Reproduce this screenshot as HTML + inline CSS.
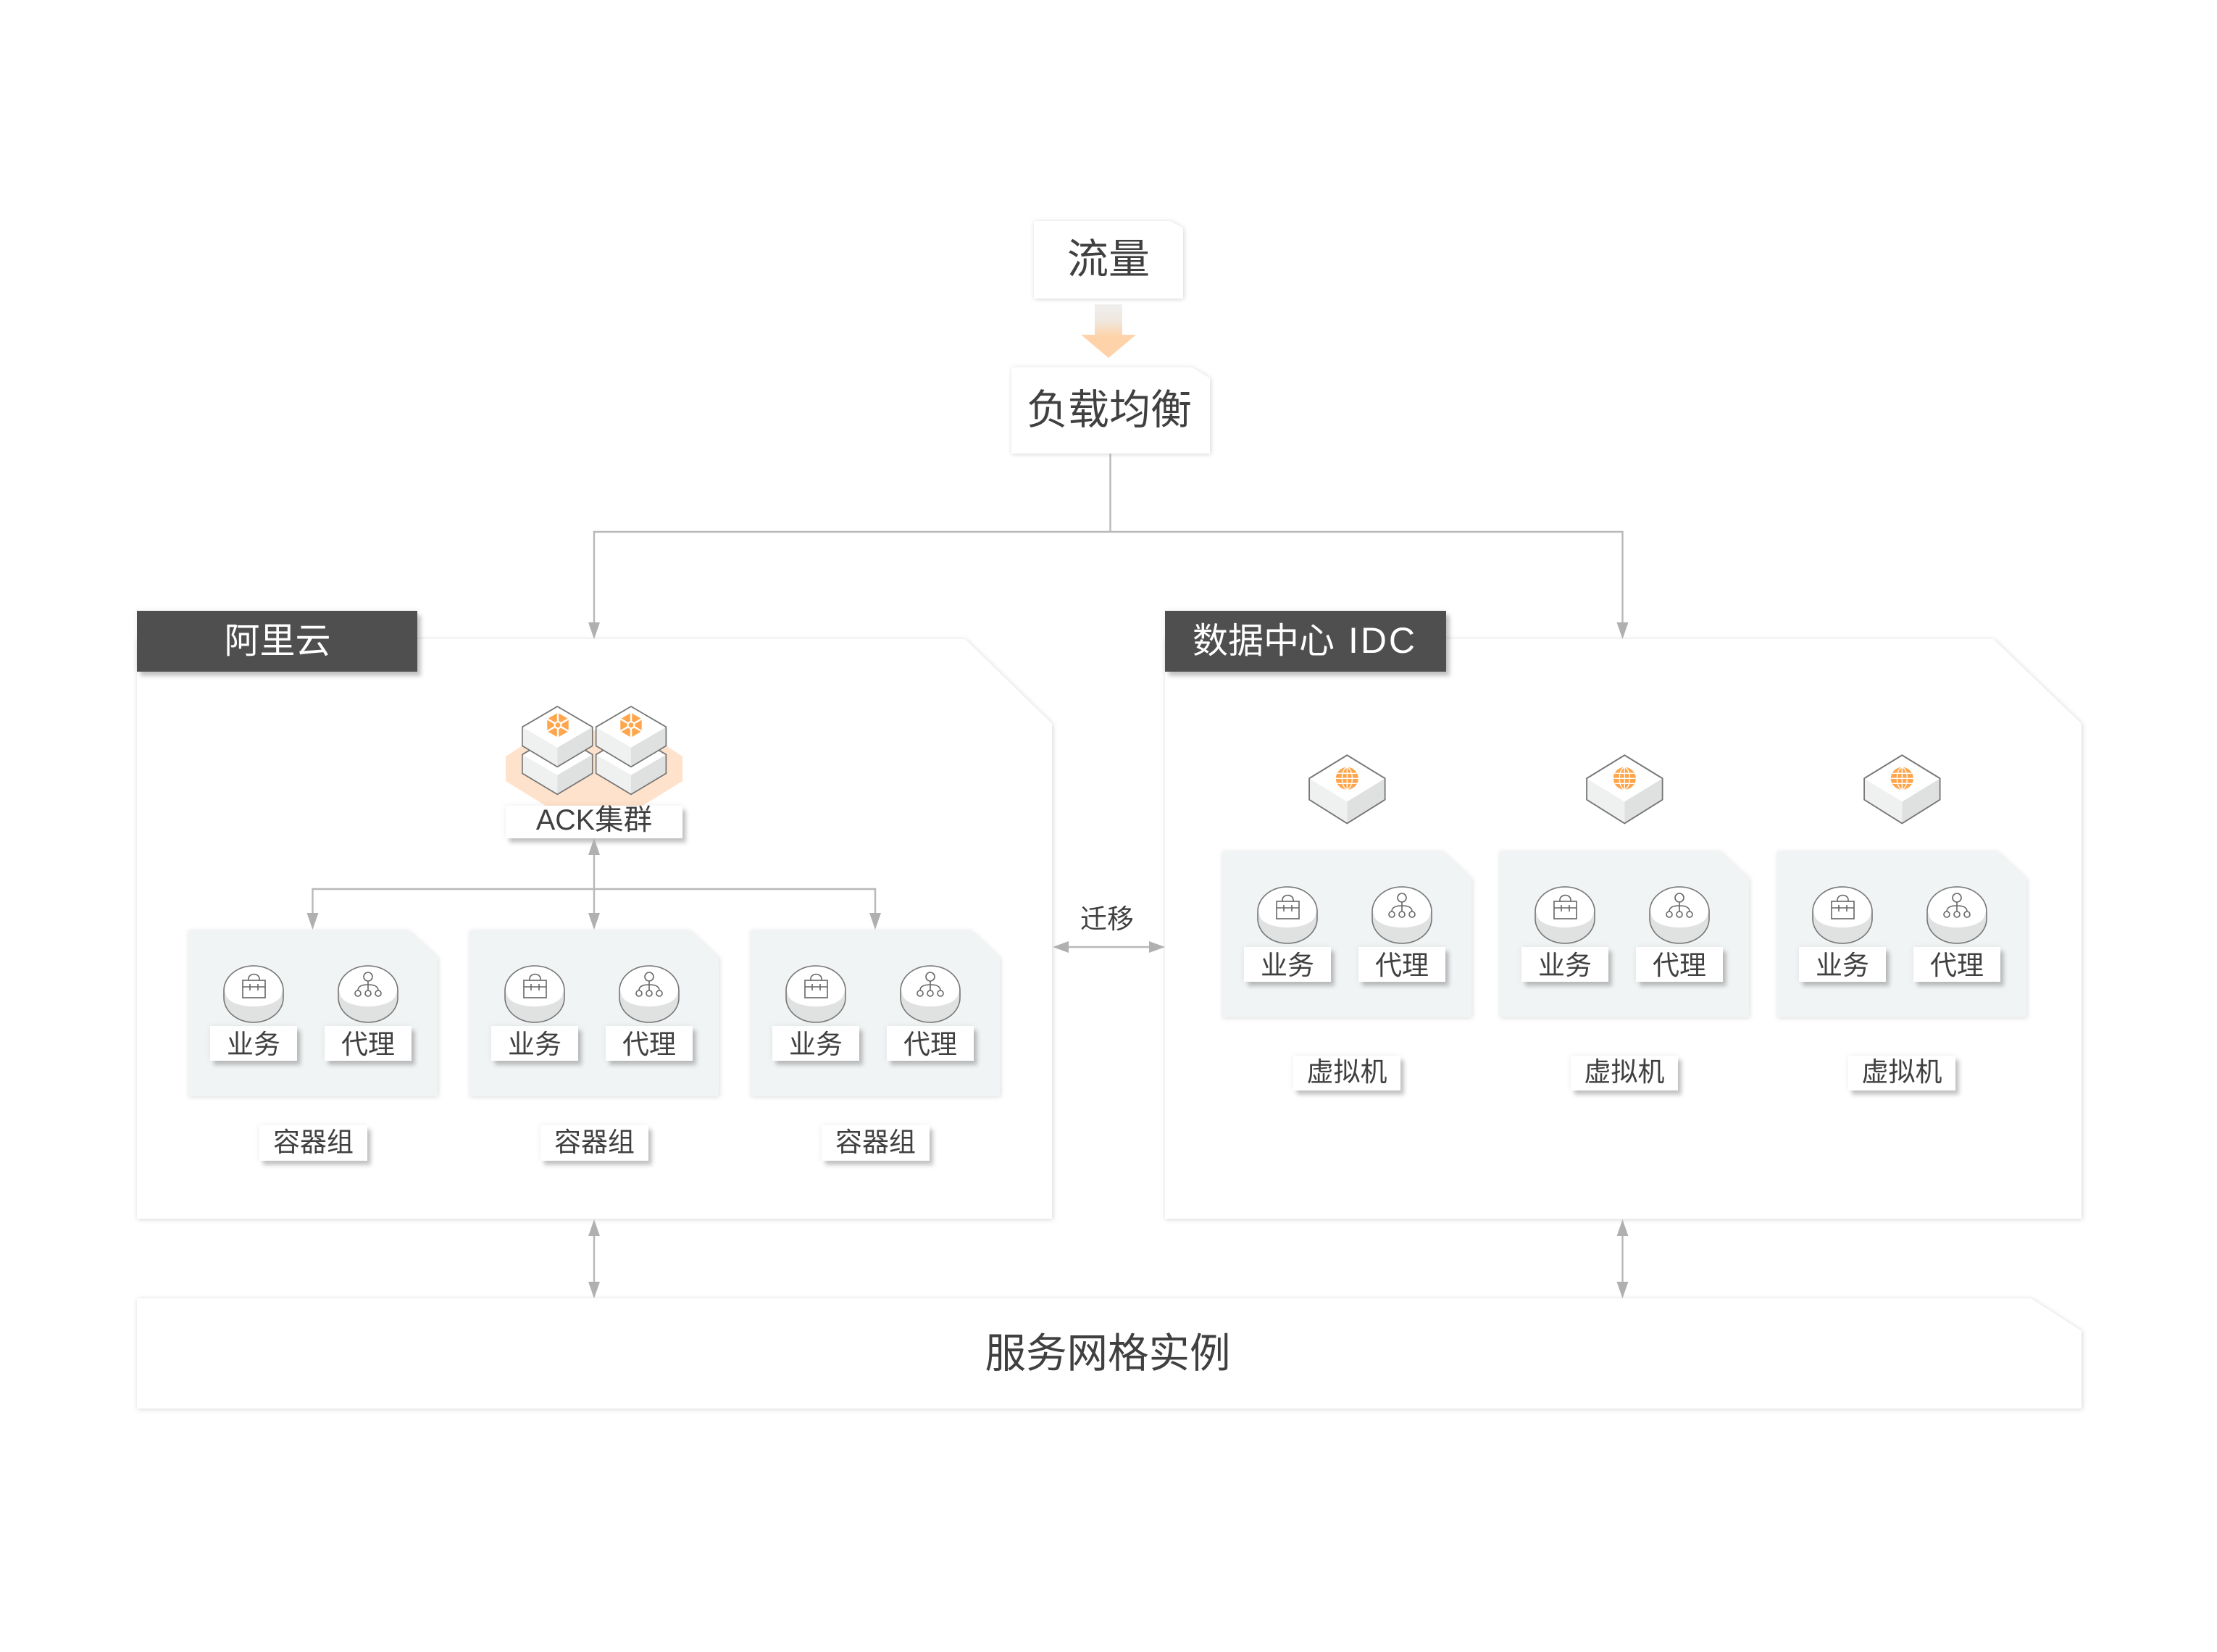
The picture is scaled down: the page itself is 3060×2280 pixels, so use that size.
<!DOCTYPE html>
<html><head><meta charset="utf-8"><style>
html,body{margin:0;padding:0;background:#fff}
svg{display:block}
text{font-family:"Liberation Sans","Noto Sans CJK SC",sans-serif;fill:#404040;text-anchor:middle}
</style></head><body>
<svg width="3060" height="2280" viewBox="0 0 3060 2280" xmlns="http://www.w3.org/2000/svg">
<defs>
<filter id="fp" x="-5%" y="-5%" width="110%" height="110%"><feDropShadow dx="1" dy="1" stdDeviation="3.5" flood-color="#000" flood-opacity=".17"/></filter>
<filter id="fs" x="-20%" y="-20%" width="140%" height="140%"><feDropShadow dx="1" dy="1" stdDeviation="3.5" flood-color="#000" flood-opacity=".14"/></filter>
<filter id="fl" x="-20%" y="-30%" width="150%" height="180%">
<feGaussianBlur in="SourceAlpha" stdDeviation="4" result="b1"/><feFlood flood-color="#000" flood-opacity=".07"/><feComposite in2="b1" operator="in" result="g"/>
<feGaussianBlur in="SourceAlpha" stdDeviation="3"/><feOffset dx="5" dy="6" result="b2"/><feFlood flood-color="#000" flood-opacity=".22"/><feComposite in2="b2" operator="in" result="s"/>
<feMerge><feMergeNode in="g"/><feMergeNode in="s"/><feMergeNode in="SourceGraphic"/></feMerge>
</filter>
<linearGradient id="ga" gradientUnits="userSpaceOnUse" x1="0" y1="420" x2="0" y2="494"><stop offset="0" stop-color="#efefef"/><stop offset=".3" stop-color="#efe8e0"/><stop offset=".6" stop-color="#fed3a9"/><stop offset="1" stop-color="#fed3a9"/></linearGradient>
<path id="ad" d="M-8 -23H8L0 0Z" fill="#b0b0b0"/>
<g id="cyl">
<path d="M-41 34A41 34 0 0 1 41 34V44A41 34 0 0 1 -41 44Z" fill="#e0e2e1" stroke="#777" stroke-width="1.6"/>
<path d="M-40 34A40 33 0 0 1 40 34L38 41A38.5 18 0 0 1 -38 41Z" fill="#fff"/>
</g>
<g id="unit">
<polygon points="0,0 303,0 344,38 344,229 0,229" fill="#f1f4f5" filter="url(#fs)"/>
<use href="#cyl" x="90" y="49"/>
<use href="#cyl" x="248" y="49"/>
<g fill="none" stroke="#666" stroke-width="1.6">
<rect x="75" y="69" width="31" height="24"/>
<path d="M83 69V67A7.5 6.5 0 0 1 98 67V69M75 78H106M85 74V83M96 74V83"/>
<circle cx="248" cy="64" r="6"/>
<circle cx="234" cy="87" r="4"/><circle cx="248" cy="87" r="4"/><circle cx="262" cy="87" r="4"/>
<path d="M248 70V83M234 83Q234 75 248 75Q262 75 262 83"/>
</g>
<rect x="30" y="132" width="120" height="48" fill="#fff" filter="url(#fl)"/>
<rect x="188" y="132" width="120" height="48" fill="#fff" filter="url(#fl)"/>
</g>
<g id="cube">
<polygon points="0,0 -48.3,28.3 -48.3,54.3 0,83.3 48.4,54.3 48.4,28.3" fill="#fff" stroke="#777" stroke-width="1.8" stroke-linejoin="round"/>
<polygon points="-47.5,29 0,56.7 0,82.3 -47.5,53.8" fill="#eff0f0"/>
<polygon points="47.5,29 0,56.7 0,82.3 47.5,53.8" fill="#dfe1e0"/>
</g>
<g id="wheel">
<polygon points="0,-17 14.7,-8.5 14.7,8.5 0,17 -14.7,8.5 -14.7,-8.5" fill="#ffa64d"/>
<path d="M0 -18V18M-15.6 -9L15.6 9M-15.6 9L15.6 -9" stroke="#fff" stroke-width="2.4"/>
<circle r="5.5" fill="#fff"/><circle r="3.4" fill="#ffa64d"/>
</g>
<g id="globe">
<circle r="15.5" fill="#ffa64d"/>
<g fill="none" stroke="#fff" stroke-width="1.3"><ellipse rx="7" ry="15"/><path d="M0 -15.5V15.5M-15.5 0H15.5M-13.5 -7H13.5M-13.5 7H13.5"/></g>
</g>
</defs>

<!-- top boxes -->
<polygon points="1427,305 1615,305 1633,315 1633,412 1427,412" fill="#fff" filter="url(#fp)"/>
<text x="1530" y="377" font-size="57">流量</text>
<polygon points="1511,420 1549,420 1549,462 1568,462 1530,494 1492,462 1511,462" fill="url(#ga)"/>
<polygon points="1396,507 1645,507 1670,522 1670,626 1396,626" fill="#fff" filter="url(#fp)"/>
<text x="1531" y="585" font-size="57">负载均衡</text>

<!-- panels -->
<polygon points="189,882 1332,882 1452,999 1452,1682 189,1682" fill="#fff" filter="url(#fp)"/>
<polygon points="1608,882 2751,882 2873,999 2873,1682 1608,1682" fill="#fff" filter="url(#fp)"/>
<polygon points="189,1792 2803,1792 2873,1837 2873,1944 189,1944" fill="#fff" filter="url(#fp)"/>
<text x="1529" y="1887" font-size="56.5">服务网格实例</text>

<!-- connectors -->
<g stroke="#b8b8b8" stroke-width="2.4" fill="none">
<path d="M1532.5 626V734M820 862V734H2239.5V862"/>
<path d="M820 1175V1265M431.5 1265V1227H1208V1265"/>
<path d="M1470 1307H1590"/>
<path d="M820 1700V1775M2239.5 1700V1775"/>
</g>
<use href="#ad" x="820" y="882"/><use href="#ad" x="2239.5" y="882"/>

<!-- tags -->
<rect x="189" y="843" width="387" height="84" fill="#4f4f4f" filter="url(#fl)"/>
<text x="383" y="901" font-size="49" style="fill:#fff">阿里云</text>
<rect x="1608" y="843" width="388" height="84" fill="#4f4f4f" filter="url(#fl)"/>
<text x="1744" y="901" font-size="49" style="fill:#fff">数据中心</text>
<text x="1907" y="901" font-size="50" textLength="92" style="fill:#fff">IDC</text>

<!-- ACK -->
<polygon points="698,1044 753,1008 887,1008 942,1044 942,1078 887,1112 753,1112 698,1078" fill="#fee2cb"/>
<use href="#cube" x="769.3" y="1013"/><use href="#cube" x="871" y="1013"/>
<use href="#cube" x="769.3" y="975"/><use href="#cube" x="871" y="975"/>
<use href="#wheel" x="770" y="1000.7"/><use href="#wheel" x="871" y="1000.7"/>
<rect x="698" y="1112" width="244" height="45" fill="#fff" filter="url(#fl)"/>
<text x="820" y="1145" font-size="39.5">ACK集群</text>

<!-- ACK arrows -->
<path d="M820 1157L828 1180H812Z" fill="#b0b0b0"/>
<use href="#ad" x="431.5" y="1283"/><use href="#ad" x="820" y="1283"/><use href="#ad" x="1208" y="1283"/>

<!-- container units -->
<g transform="translate(260,1284)"><use href="#unit"/><text x="90" y="170" font-size="37">业务</text><text x="248" y="170" font-size="37">代理</text></g>
<g transform="translate(648,1284)"><use href="#unit"/><text x="90" y="170" font-size="37">业务</text><text x="248" y="170" font-size="37">代理</text></g>
<g transform="translate(1036,1284)"><use href="#unit"/><text x="90" y="170" font-size="37">业务</text><text x="248" y="170" font-size="37">代理</text></g>
<g>
<rect x="358" y="1553" width="149" height="49" fill="#fff" filter="url(#fl)"/><text x="432.5" y="1589" font-size="37">容器组</text>
<rect x="746" y="1553" width="149" height="49" fill="#fff" filter="url(#fl)"/><text x="820.5" y="1589" font-size="37">容器组</text>
<rect x="1134" y="1553" width="149" height="49" fill="#fff" filter="url(#fl)"/><text x="1208.5" y="1589" font-size="37">容器组</text>
</g>

<!-- VM units -->
<g transform="translate(1687,1175)"><use href="#unit"/><text x="90" y="170" font-size="37">业务</text><text x="248" y="170" font-size="37">代理</text></g>
<g transform="translate(2070,1175)"><use href="#unit"/><text x="90" y="170" font-size="37">业务</text><text x="248" y="170" font-size="37">代理</text></g>
<g transform="translate(2453,1175)"><use href="#unit"/><text x="90" y="170" font-size="37">业务</text><text x="248" y="170" font-size="37">代理</text></g>
<use href="#cube" transform="translate(1859.3,1042.3) scale(1.08,1.13)"/>
<use href="#cube" transform="translate(2242.3,1042.3) scale(1.08,1.13)"/>
<use href="#cube" transform="translate(2625.3,1042.3) scale(1.08,1.13)"/>
<use href="#globe" x="1859.3" y="1074.3"/><use href="#globe" x="2242.3" y="1074.3"/><use href="#globe" x="2625.3" y="1074.3"/>
<rect x="1785" y="1457" width="148" height="48" fill="#fff" filter="url(#fl)"/><text x="1859" y="1492" font-size="37">虚拟机</text>
<rect x="2168" y="1457" width="148" height="48" fill="#fff" filter="url(#fl)"/><text x="2242" y="1492" font-size="37">虚拟机</text>
<rect x="2551" y="1457" width="148" height="48" fill="#fff" filter="url(#fl)"/><text x="2625" y="1492" font-size="37">虚拟机</text>

<!-- migrate -->
<text x="1528" y="1281" font-size="37">迁移</text>
<path d="M1453 1307L1475 1299V1315Z" fill="#b0b0b0"/><path d="M1608 1307L1586 1299V1315Z" fill="#b0b0b0"/>

<!-- bottom arrows -->
<path d="M820 1683L828 1706H812Z" fill="#b0b0b0"/><use href="#ad" x="820" y="1792"/>
<path d="M2239.5 1683L2247.5 1706H2231.5Z" fill="#b0b0b0"/><use href="#ad" x="2239.5" y="1792"/>
</svg>
</body></html>
